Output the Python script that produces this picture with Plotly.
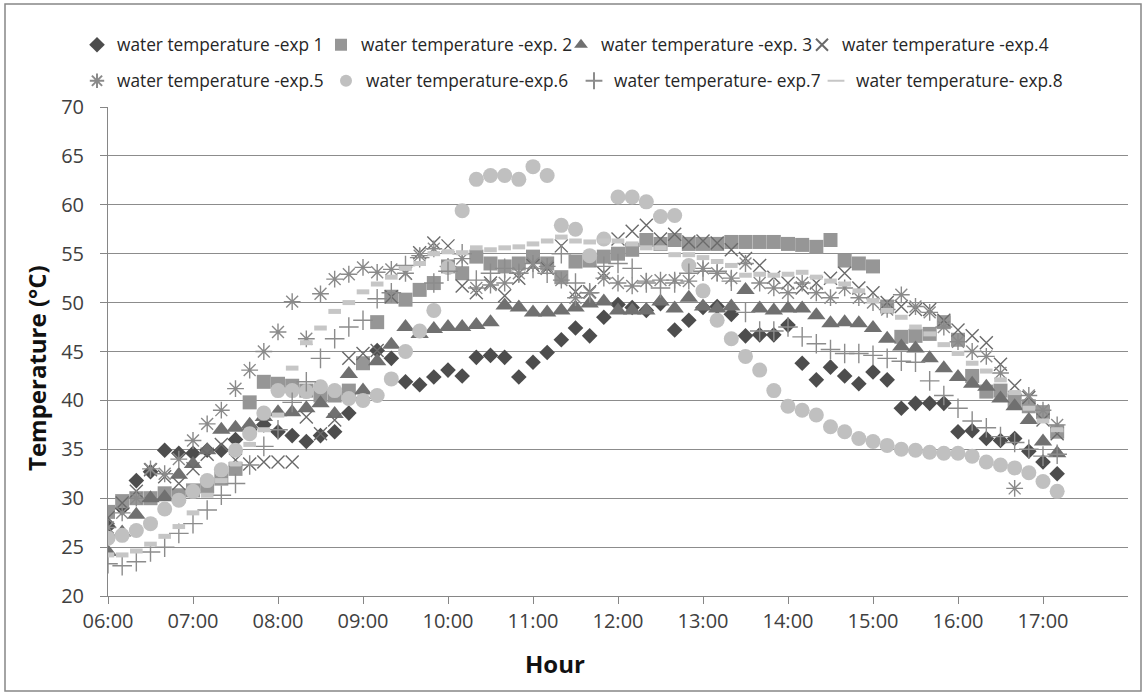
import plotly.graph_objects as go

times = ["06:00","06:10","06:20","06:30","06:40","06:50",
         "07:00","07:10","07:20","07:30","07:40","07:50",
         "08:00","08:10","08:20","08:30","08:40","08:50",
         "09:00","09:10","09:20","09:30","09:40","09:50",
         "10:00","10:10","10:20","10:30","10:40","10:50",
         "11:00","11:10","11:20","11:30","11:40","11:50",
         "12:00","12:10","12:20","12:30","12:40","12:50",
         "13:00","13:10","13:20","13:30","13:40","13:50",
         "14:00","14:10","14:20","14:30","14:40","14:50",
         "15:00","15:10","15:20","15:30","15:40","15:50",
         "16:00","16:10","16:20","16:30","16:40","16:50",
         "17:00","17:10"]

exp1 = [27.1,29.0,31.8,32.7,34.9,34.6,34.6,34.9,34.9,36.0,37.0,37.5,
        36.8,36.4,35.8,36.4,36.8,38.7,40.2,45.1,44.3,41.9,41.6,42.4,
        43.1,42.5,44.4,44.6,44.4,42.4,43.9,44.9,46.2,47.4,46.6,48.5,
        49.8,49.5,49.2,49.9,47.2,48.2,49.5,49.6,48.8,46.6,46.7,46.7,
        47.7,43.8,42.1,43.4,42.5,41.7,42.9,42.1,39.2,39.7,39.7,39.7,
        36.8,36.9,36.1,35.9,36.1,34.8,33.7,32.5]

exp2 = [28.6,29.7,30.0,30.0,30.5,30.3,30.8,31.2,32.0,33.0,39.8,41.9,
        41.7,41.5,41.0,40.5,40.5,41.0,43.8,48.0,50.6,50.3,51.3,52.0,
        53.7,53.0,54.7,54.0,53.7,54.0,54.7,54.0,52.6,54.2,54.3,54.7,
        55.0,55.4,56.4,56.0,56.4,56.0,56.0,56.0,56.2,56.2,56.2,56.2,
        56.0,55.9,55.7,56.4,54.3,54.0,53.7,49.6,46.5,46.6,46.8,48.0,
        46.2,42.5,40.9,41.0,40.0,39.4,38.8,36.8]

exp3 = [24.5,26.5,28.3,30.0,30.1,32.4,33.5,34.9,37.0,37.2,37.5,38.3,
        38.8,38.8,39.2,39.7,38.6,42.7,41.0,44.0,45.7,47.5,46.8,47.3,
        47.5,47.5,47.7,48.0,49.7,49.5,49.0,49.0,49.2,49.5,49.9,50.1,
        49.2,49.2,49.2,50.1,49.4,50.5,49.6,49.4,49.6,51.3,49.4,49.2,
        49.4,49.4,48.7,47.9,48.0,47.9,47.4,46.3,45.5,45.3,44.3,43.3,
        42.4,41.7,41.4,40.2,39.4,38.0,35.8,34.6]

exp4 = [28.0,29.5,30.7,32.9,32.2,31.5,33.0,34.5,35.5,33.9,33.5,33.7,
        33.7,33.7,38.3,36.6,38.0,44.3,44.8,45.1,50.6,53.0,55.1,56.1,
        55.8,51.7,51.0,52.0,50.7,52.5,53.8,53.5,55.8,51.1,51.1,53.0,
        56.5,57.3,57.9,56.5,57.0,56.2,56.3,56.1,55.4,54.5,53.8,52.6,
        52.0,51.5,52.0,52.5,53.0,51.5,51.0,50.0,49.6,49.3,49.3,48.2,
        47.2,46.6,45.9,43.7,41.5,40.3,38.0,36.6]

exp5 = [27.0,28.5,30.0,33.0,32.5,34.0,35.9,37.6,39.0,41.2,43.1,45.0,
        47.0,50.1,46.3,50.9,52.4,52.9,53.6,53.1,53.4,53.0,54.8,55.5,
        53.7,54.5,51.5,51.8,52.0,53.0,54.0,53.7,52.3,50.5,51.0,52.5,
        52.0,51.7,52.2,52.3,52.3,52.2,53.5,53.0,52.5,54.0,52.0,51.5,
        51.0,52.0,51.0,50.5,51.5,50.5,50.0,49.3,50.8,49.6,49.0,47.5,
        46.0,45.0,44.5,42.8,31.0,40.5,39.0,37.5]

exp6 = [25.9,26.2,26.7,27.4,28.9,29.8,30.7,31.8,32.9,34.9,36.6,38.7,
        41.0,41.0,40.9,41.4,41.0,40.2,40.0,40.5,42.2,45.0,47.1,49.2,
        53.6,59.4,62.6,63.0,63.0,62.6,63.9,63.0,57.9,57.5,54.8,56.5,
        60.8,60.8,60.3,58.8,58.9,53.8,51.2,48.2,46.3,44.5,43.1,41.0,
        39.4,39.0,38.5,37.3,36.8,36.1,35.8,35.4,35.0,34.9,34.7,34.6,
        34.6,34.3,33.7,33.4,33.1,32.6,31.7,30.7]

exp7 = [23.3,23.1,23.5,24.5,25.0,26.4,27.4,28.8,30.3,31.5,33.4,35.3,
        37.0,39.8,41.9,44.3,46.3,47.5,48.2,50.4,51.0,53.8,54.6,52.0,
        53.2,55.0,52.3,53.0,53.5,53.0,53.5,53.0,55.0,52.0,51.0,53.7,
        54.0,53.5,52.0,51.5,52.0,53.0,53.2,53.2,52.2,49.0,47.1,47.1,
        47.5,46.5,45.8,45.2,44.8,44.8,44.6,44.3,44.0,43.9,42.0,40.5,
        39.2,37.9,37.2,36.3,35.7,35.0,34.3,34.5]

exp8 = [24.2,24.2,24.6,25.3,26.1,27.1,28.5,30.3,31.8,33.5,35.5,37.0,
        38.5,43.3,45.9,47.4,49.1,50.0,51.1,51.9,52.6,53.5,54.0,55.0,
        55.2,55.1,55.6,55.4,55.6,55.7,56.0,56.3,56.7,56.3,56.2,56.3,
        56.3,56.0,55.6,55.6,54.9,54.9,54.6,54.2,53.8,52.8,52.9,52.8,
        52.9,53.1,52.6,52.2,51.9,51.2,50.2,49.2,48.5,47.5,46.8,45.7,
        44.8,43.8,43.0,42.1,40.8,39.2,37.9,37.0]

names = ["water temperature -exp 1", "water temperature -exp. 2",
         "water temperature -exp. 3", "water temperature -exp.4",
         "water temperature -exp.5", "water temperature-exp.6",
         "water temperature- exp.7", "water temperature- exp.8"]

hour_ticks = ["06:00","07:00","08:00","09:00","10:00","11:00",
              "12:00","13:00","14:00","15:00","16:00","17:00"]

DAY = "2024-01-01 "
x = [DAY + t for t in times]

styles = [
    dict(symbol="diamond", size=12, color="#4d4d4d"),
    dict(symbol="square", size=14, color="#969696"),
    dict(symbol="triangle-up", size=16, color="#707070"),
    dict(symbol="x-thin", size=13, color="rgba(0,0,0,0)", line=dict(color="#6a6a6a", width=1.4)),
    dict(symbol="asterisk", size=14, color="rgba(0,0,0,0)", line=dict(color="#8a8a8a", width=1.4)),
    dict(symbol="circle", size=15, color="#c0c0c0"),
    dict(symbol="cross-thin", size=14, color="rgba(0,0,0,0)", line=dict(color="#8c8c8c", width=1.4)),
    dict(symbol="line-ew", size=9, color="#c6c6c6", line=dict(color="#c6c6c6", width=5)),
]

series = [exp1, exp2, exp3, exp4, exp5, exp6, exp7, exp8]

PL, PR, PT, PB = 108, 1128, 107, 596
W, H = 1147, 695
pw, ph = PR - PL, PB - PT

def px(xp):
    return (xp - PL) / pw

def py(yp):
    return (PB - yp) / ph

# pixel positions where each legend text starts, and legend row centres
legend_text_x = [117, 361, 601, 842, 117, 366, 614, 856]
legend_row_y = [45, 45, 45, 45, 81, 81, 81, 81]

fig = go.Figure()
legend_layouts = {}
legend_font = dict(family="Open Sans", size=17.3, color="#262626")
for k, (vals, nm, st) in enumerate(zip(series, names, styles)):
    mk = dict(symbol=st["symbol"], size=st["size"], color=st["color"])
    if "line" in st:
        mk["line"] = st["line"]
    else:
        mk["line"] = dict(width=0)
    lname = "legend" if k == 0 else "legend%d" % (k + 1)
    fig.add_trace(go.Scatter(
        x=x, y=vals, mode="markers", name=nm, marker=mk, legend=lname,
    ))
    legend_layouts[lname] = dict(
        orientation="h", x=px(legend_text_x[k] - 40), xanchor="left",
        y=py(legend_row_y[k]), yanchor="middle",
        font=legend_font, bgcolor="rgba(0,0,0,0)", itemsizing="constant",
    )

fig.update_layout(
    width=W, height=H,
    margin=dict(l=PL, r=W - PR, t=PT, b=H - PB),
    paper_bgcolor="white", plot_bgcolor="white",
    font=dict(family="Open Sans", color="#333333"),
    xaxis=dict(
        type="date", range=[DAY + "06:00", DAY + "18:00"],
        tickvals=[DAY + t for t in hour_ticks], ticktext=hour_ticks,
        showgrid=False, zeroline=False,
        showline=True, linecolor="#868686", linewidth=1,
        ticks="outside", ticklen=7, tickcolor="#868686", tickwidth=1,
        tickfont=dict(family="Open Sans", size=20, color="#404040"),
        ticklabelstandoff=0,
    ),
    yaxis=dict(
        range=[20, 70], dtick=5, tick0=20,
        showgrid=True, gridcolor="#8c8c8c", gridwidth=1,
        zeroline=False,
        showline=True, linecolor="#868686", linewidth=1,
        ticks="outside", ticklen=7, tickcolor="#868686", tickwidth=1,
        tickfont=dict(family="Open Sans", size=20, color="#404040"),
        ticklabelstandoff=12,
    ),
    showlegend=True,
    **legend_layouts,
)

fig.add_annotation(text="<b>Hour</b>", x=px(555), y=py(663), xref="paper", yref="paper",
                   showarrow=False, font=dict(family="Open Sans", size=24, color="#111111"),
                   xanchor="center", yanchor="middle")
fig.add_annotation(text="<b>Temperature (°C)</b>", x=px(36), y=py(368), xref="paper", yref="paper",
                   showarrow=False, textangle=-90,
                   font=dict(family="Open Sans", size=24, color="#111111"),
                   xanchor="center", yanchor="middle")

fig.add_shape(type="rect", xref="paper", yref="paper",
              x0=px(5), x1=px(1141), y0=py(691), y1=py(4),
              line=dict(color="#878787", width=1.5), fillcolor="rgba(0,0,0,0)", layer="below")

fig.write_html("out.html")
